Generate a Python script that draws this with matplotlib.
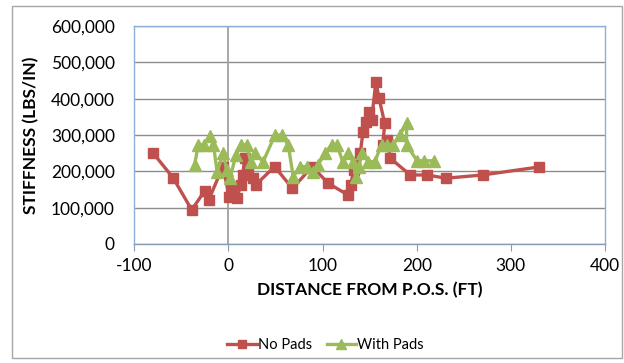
import matplotlib
matplotlib.use("Agg")
import matplotlib.pyplot as plt
from matplotlib.ticker import FuncFormatter, MultipleLocator
from matplotlib.patches import Rectangle

# Stiffness measurements vs. distance from the point of switch
no_pads_x = [-80, -59, -39, -25, -21, -6, 1, 3, 9, 13, 15, 17.5, 21, 26, 29,
             49, 68, 89, 106, 127, 130, 133, 140, 143, 146, 149.5, 152, 156.6,
             160, 166, 164, 168.6, 172, 193, 211, 231, 270, 330]
no_pads_y = [250000, 183000, 94000, 147000, 121000, 213000, 130000, 149000,
             126000, 163000, 190000, 236000, 209000, 181000, 163000, 213000,
             153000, 213000, 167000, 135000, 163000, 204000, 250000, 309000,
             337000, 364000, 340000, 447000, 401000, 332000, 273000, 287000,
             236000, 190000, 190000, 181000, 190000, 212000]

with_pads_x = [-36, -32, -26, -19.6, -16, -12, -5.5, -2, 1.6, 8, 13.3, 19.3,
               23.6, 28, 37, 49.4, 56.5, 63.5, 68.8, 76, 83, 89.4, 95.3, 102.4,
               109.6, 115.5, 121.2, 127.2, 132.5, 135.3, 138.9, 141.4, 148.4,
               155.5, 162.6, 168.6, 175, 182, 189.2, 189.2, 200.4, 207.5, 218.2]
with_pads_y = [218000, 273000, 273000, 296000, 273000, 199000, 250000, 204000,
               181000, 245000, 273000, 273000, 227000, 250000, 227000, 300000,
               300000, 273000, 185000, 213000, 213000, 199000, 218000, 250000,
               273000, 273000, 227000, 250000, 227000, 185000, 213000, 250000,
               227000, 227000, 273000, 273000, 273000, 300000, 332000, 273000,
               229000, 229000, 229000]

series_labels = ["No Pads", "With Pads"]
x_label = "DISTANCE FROM P.O.S. (FT)"
y_label = "STIFFNESS (LBS/IN)"

RED = "#C0504D"
GREEN = "#9BBB59"
GRID = "#8C8C8C"
FRAME = "#8EB0D8"

plt.rcParams["font.family"] = ["Lato", "DejaVu Sans"]
plt.rcParams["axes.unicode_minus"] = False

fig = plt.figure(figsize=(6.24, 3.63), dpi=100)
fig.patches.append(Rectangle((12 / 624, 5 / 363), 610 / 624, 352 / 363,
                             transform=fig.transFigure, fill=False,
                             edgecolor="#A6A6A6", linewidth=1.0))

ax = fig.add_axes([134.3 / 624, 1 - 244 / 363, 470.7 / 624, 218 / 363])

ax.set_xlim(-100, 400)
ax.set_ylim(0, 600000)
ax.xaxis.set_major_locator(MultipleLocator(100))
ax.yaxis.set_major_locator(MultipleLocator(100000))
ax.yaxis.set_major_formatter(FuncFormatter(lambda v, p: f"{int(v):,}"))

ax.grid(axis="y", color=GRID, linewidth=1.0)
ax.set_axisbelow(True)
ax.axvline(0, color="#A0A0A0", linewidth=1.3, zorder=1)

for side in ["left", "right", "top"]:
    ax.spines[side].set_color(FRAME)
    ax.spines[side].set_linewidth(1.0)
ax.spines["bottom"].set_color("#8A9BB5")
ax.spines["bottom"].set_linewidth(1.0)

ax.tick_params(axis="x", direction="out", length=5, color="#8A9BB5",
               labelsize=12.5, pad=5)
ax.tick_params(axis="y", length=0, labelsize=12.5, pad=14)

ax.plot(no_pads_x, no_pads_y, color=RED, linewidth=2.4, marker="s",
        markersize=7.5, markeredgecolor=RED, label=series_labels[0], zorder=3)
ax.plot(with_pads_x, with_pads_y, color=GREEN, linewidth=2.4, marker="^",
        markersize=8.5, markeredgecolor=GREEN, label=series_labels[1], zorder=4)

ax.set_xlabel(x_label, fontsize=12.5, fontweight="bold", labelpad=6)
ax.set_ylabel(y_label, fontsize=12.5, fontweight="bold", labelpad=8)

fig.legend(loc="center", bbox_to_anchor=(0.522, 0.05), ncol=2, frameon=False,
           fontsize=10.5, handlelength=2.0, handletextpad=0.1,
           columnspacing=1.0, markerscale=0.8)

fig.savefig("out.png", dpi=100)
